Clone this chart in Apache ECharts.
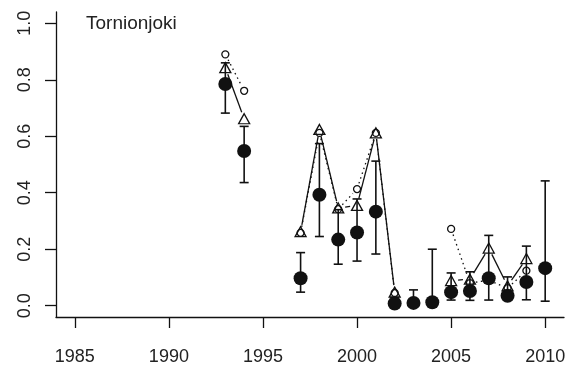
<!DOCTYPE html>
<html><head><meta charset="utf-8">
<script src="https://cdn.jsdelivr.net/npm/echarts@6/dist/echarts.min.js"></script>
<style>html,body{margin:0;padding:0;background:#fff}#c{width:573px;height:374px}</style>
</head><body><div id="c"></div>
<script>
const chartTitle = 'Tornionjoki';
const years      = [1993, 1994, 1995, 1996, 1997, 1998, 1999, 2000, 2001, 2002, 2003, 2004, 2005, 2006, 2007, 2008, 2009, 2010];
const estimate   = [0.785, 0.548, null, null, 0.097, 0.393, 0.234, 0.259, 0.333, 0.008, 0.010, 0.012, 0.048, 0.052, 0.097, 0.035, 0.084, 0.133];
const lowerCI    = [0.682, 0.436, null, null, 0.048, 0.245, 0.147, 0.158, 0.183, 0.000, 0.000, 0.000, 0.020, 0.019, 0.020, 0.020, 0.021, 0.016];
const upperCI    = [0.860, 0.635, null, null, 0.188, 0.574, 0.340, 0.378, 0.512, 0.030, 0.056, 0.200, 0.116, 0.120, 0.249, 0.102, 0.211, 0.442];
const triangles  = [0.843, 0.662, null, null, 0.262, 0.624, 0.346, 0.355, 0.612, 0.048, null, null, 0.089, 0.094, 0.204, 0.070, 0.167, null];
const openCircles= [0.890, 0.761, null, null, 0.258, 0.612, 0.342, 0.413, 0.612, 0.045, null, null, 0.272, 0.080, 0.090, 0.062, 0.124, null];
const xTicks = [1985, 1990, 1995, 2000, 2005, 2010];
const yTicks = [0.0, 0.2, 0.4, 0.6, 0.8, 1.0];

const INK = '#111';
const TXT = '#222';
const FONT = '"Liberation Sans", Arial, sans-serif';

function pointsOf(arr) {
  const out = [];
  years.forEach((y, i) => { if (arr[i] != null) out.push([y, arr[i]]); });
  return out;
}
function segmentsOf(arr) {
  const out = [];
  for (let i = 0; i < years.length - 1; i++) {
    if (arr[i] != null && arr[i + 1] != null) out.push([years[i], arr[i], years[i + 1], arr[i + 1]]);
  }
  return out;
}
const errData = [];
years.forEach((y, i) => { if (lowerCI[i] != null) errData.push([y, lowerCI[i], upperCI[i]]); });

function renderErr(params, api) {
  const x = api.value(0);
  const pLo = api.coord([x, api.value(1)]);
  const pHi = api.coord([x, api.value(2)]);
  const w = 4.5;
  const st = { stroke: INK, lineWidth: 1.6 };
  return { type: 'group', children: [
    { type: 'line', shape: { x1: pLo[0], y1: pLo[1], x2: pHi[0], y2: pHi[1] }, style: st },
    { type: 'line', shape: { x1: pLo[0] - w, y1: pLo[1], x2: pLo[0] + w, y2: pLo[1] }, style: st },
    { type: 'line', shape: { x1: pHi[0] - w, y1: pHi[1], x2: pHi[0] + w, y2: pHi[1] }, style: st }
  ]};
}
function makeSegRenderer(dash, gap) {
  return function (params, api) {
    const p1 = api.coord([api.value(0), api.value(1)]);
    const p2 = api.coord([api.value(2), api.value(3)]);
    const dx = p2[0] - p1[0], dy = p2[1] - p1[1];
    const len = Math.sqrt(dx * dx + dy * dy);
    if (len <= 2 * gap + 1) return { type: 'group', children: [] };
    const ux = dx / len, uy = dy / len;
    return { type: 'line', shape: {
      x1: p1[0] + ux * gap, y1: p1[1] + uy * gap,
      x2: p2[0] - ux * gap, y2: p2[1] - uy * gap },
      style: { stroke: INK, lineWidth: 1.3, lineDash: dash } };
  };
}

const chart = echarts.init(document.getElementById('c'), null, { renderer: 'canvas' });
chart.setOption({
  animation: false,
  backgroundColor: '#fff',
  grid: { left: 56, right: 9, top: 12, bottom: 57, containLabel: false, outerBoundsMode: 'none' },
  graphic: [{ type: 'text', left: 86, top: 14, style: { text: chartTitle, font: '19px ' + FONT, fill: TXT } }],
  xAxis: {
    type: 'value', min: 1984, max: 2011,
    axisLine: { show: true, onZero: false, lineStyle: { color: INK, width: 1.3 } },
    axisTick: { show: true, inside: false, length: 11, customValues: xTicks, lineStyle: { color: INK, width: 1.3 } },
    axisLabel: { customValues: xTicks, margin: 31, fontSize: 18, fontFamily: FONT, color: TXT, formatter: v => String(v) },
    splitLine: { show: false }
  },
  yAxis: {
    type: 'value', min: -0.04, max: 1.04,
    axisLine: { show: true, onZero: false, lineStyle: { color: INK, width: 1.3 } },
    axisTick: { show: true, inside: false, length: 11, customValues: yTicks, lineStyle: { color: INK, width: 1.3 } },
    axisLabel: { customValues: yTicks, rotate: 90, margin: 22, fontSize: 18, fontFamily: FONT, color: TXT, formatter: v => v.toFixed(1) },
    splitLine: { show: false }
  },
  series: [
    { type: 'custom', name: 'ci', renderItem: renderErr, data: errData, encode: { x: 0, y: [1, 2] }, z: 2 },
    { type: 'scatter', name: 'estimate', data: pointsOf(estimate), symbol: 'circle', symbolSize: 14,
      itemStyle: { color: INK, opacity: 1 }, z: 3 },
    { type: 'custom', name: 'triLine', renderItem: makeSegRenderer(null, 7), data: segmentsOf(triangles), encode: { x: [0, 2], y: [1, 3] }, z: 4 },
    { type: 'custom', name: 'circLine', renderItem: makeSegRenderer([1.5, 3.5], 6), data: segmentsOf(openCircles), encode: { x: [0, 2], y: [1, 3] }, z: 4 },
    { type: 'scatter', name: 'triangles', data: pointsOf(triangles), symbol: 'triangle', symbolSize: [11, 10],
      itemStyle: { color: 'rgba(0,0,0,0)', borderColor: INK, borderWidth: 1.3, opacity: 1 }, z: 5 },
    { type: 'scatter', name: 'circles', data: pointsOf(openCircles), symbol: 'circle', symbolSize: 7,
      itemStyle: { color: 'rgba(0,0,0,0)', borderColor: INK, borderWidth: 1.3, opacity: 1 }, z: 5 }
  ]
});
</script></body></html>
